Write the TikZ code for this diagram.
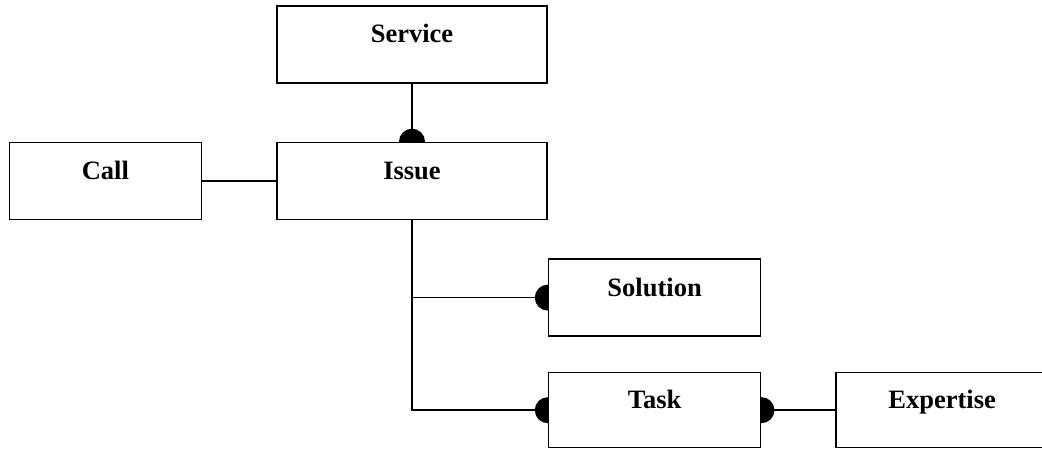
\documentclass[tikz,border=0pt]{standalone}
\usepackage{fontspec}
\setmainfont{Liberation Serif}
\usetikzlibrary{arrows.meta,positioning,backgrounds}

\begin{document}
\begin{tikzpicture}[
  ent/.style={draw,fill=white,line width=1.6pt,minimum width=#1,minimum height=77pt,inner sep=0pt,
    font=\fontsize{26.5}{30}\selectfont\bfseries,text height=18pt,text depth=21pt},
  ent/.default=212pt,
  lnk/.style={line width=1.5pt},
  dotend/.style={lnk,shorten >=-13pt,-{Circle[length=26pt]}},
  dotstart/.style={lnk,shorten <=-13pt,{Circle[length=26pt]}-}]
\path[use as bounding box,clip] (0,0) rectangle (1042pt,450pt);
\node (issue) [ent=270pt] at (412pt,269pt) {Issue};
\node (service) [ent=270pt,above=58pt of issue] {Service};
\node (call) [ent=192pt,left=74pt of issue] {Call};
\node (sol) [ent,below right=38pt and 0pt of issue.south east] {Solution};
\node (task) [ent,minimum height=75pt,below=35pt of sol] {Task};
\node (exp) [ent,minimum height=75pt,right=74pt of task] {Expertise};
\begin{scope}[on background layer]
\draw[lnk] (call) -- (issue);
\draw[dotend] (service) -- (issue);
\draw[dotend] (issue.south) |- (sol.west);
\draw[dotend] (issue.south) |- (task.west);
\draw[dotstart] (task) -- (exp);
\end{scope}
\end{tikzpicture}
\end{document}
